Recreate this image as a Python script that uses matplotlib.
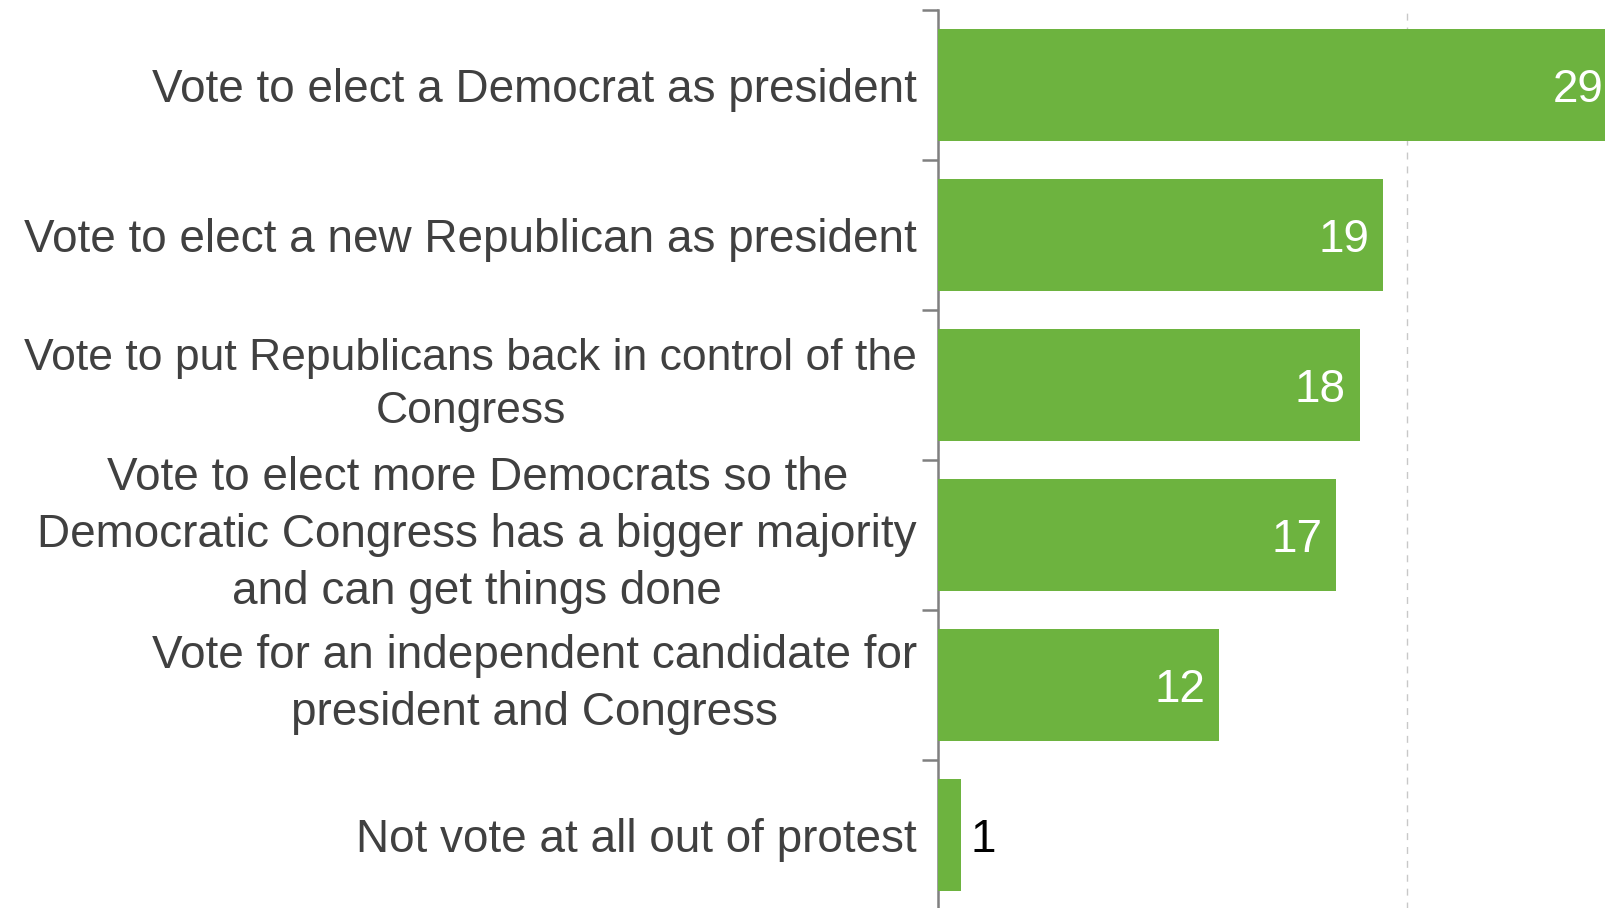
import numpy as np
import matplotlib
matplotlib.use("Agg")
import matplotlib.pyplot as plt

# 数据
labels = [
    "Vote to elect a Democrat as president",
    "Vote to elect a new Republican as president",
    "Vote to put Republicans back in control of the\nCongress",
    "Vote to elect more Democrats so the\nDemocratic Congress has a bigger majority\nand can get things done",
    "Vote for an independent candidate for\npresident and Congress",
    "Not vote at all out of protest",
]
values = [29, 19, 18, 17, 12, 1]

plt.rcParams['font.family'] = ['Liberation Sans', 'DejaVu Sans']

fig = plt.figure(figsize=(16.06, 9.08), dpi=100)
ax = fig.add_axes([0.584, -0.002, 0.416, 0.991])

y = np.arange(len(values))
ax.barh(y, values, height=0.75, color='#6db33f', zorder=3)

ax.set_xlim(0, 28.5)
ax.set_ylim(len(values) - 0.5, -0.5)

# 网格线
ax.set_xticks([0, 20])
ax.set_xticklabels([])
ax.tick_params(axis='x', length=0)
ax.grid(axis='x', color='#c8c8c8', linestyle=(0, (5, 5)), linewidth=1, zorder=0)

# y轴刻度在类别边界
ax.set_yticks(np.arange(-0.5, len(values), 1))
ax.set_yticklabels([])
ax.tick_params(axis='y', which='major', length=11.5, width=1.8, color='#808080', direction='out')
ax.set_yticks(y, minor=True)
ax.set_yticklabels(labels, minor=True, fontsize=33, color='#404040',
                   multialignment='center', linespacing=1.38)
ax.tick_params(axis='y', which='minor', length=0, pad=15)

# 多行标签垂直居中, 第三个标签稍小以免被裁切
for t in ax.get_yticklabels(minor=True):
    if '\n' in t.get_text():
        t.set_verticalalignment('center')
ax.get_yticklabels(minor=True)[2].set_fontsize(32)

for s in ['top', 'right', 'bottom']:
    ax.spines[s].set_visible(False)
ax.spines['left'].set_color('#808080')
ax.spines['left'].set_linewidth(1.8)

# 数据标签
for yi, v in zip(y, values):
    if v >= 5:
        ax.text(v - 0.6, yi, str(v), ha='right', va='center_baseline', color='white', fontsize=33, zorder=4)
    else:
        ax.text(v + 0.4, yi, str(v), ha='left', va='center_baseline', color='black', fontsize=33, zorder=4)

fig.savefig('out.png', dpi=100)
